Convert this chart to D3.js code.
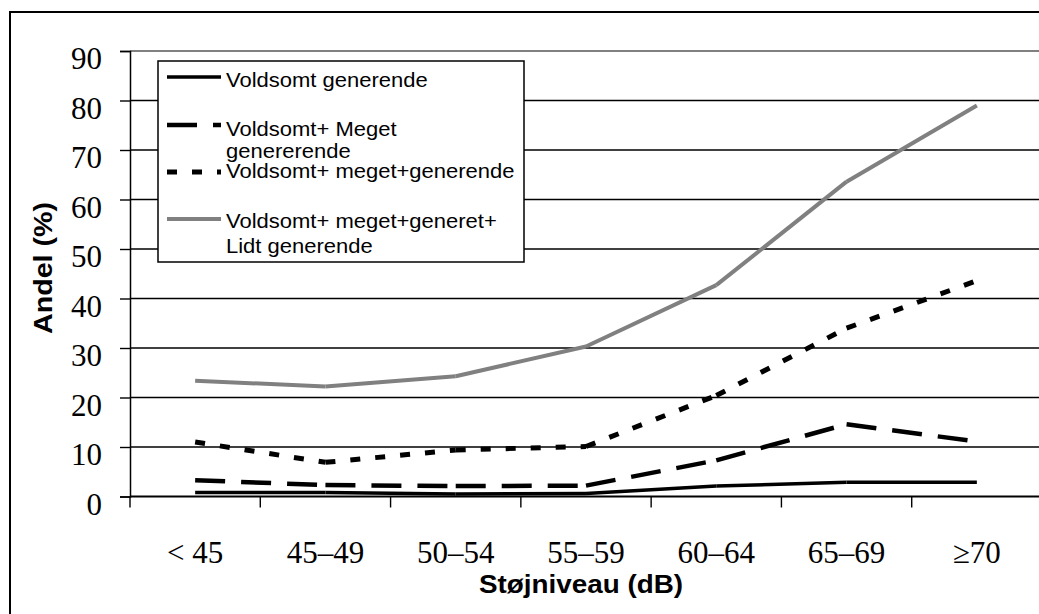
<!DOCTYPE html>
<html>
<head>
<meta charset="utf-8">
<script src="https://cdn.jsdelivr.net/npm/d3@7"></script>
<style>
    body { margin: 0; background: #fff; }
    svg { display: block; }
</style>
</head>
<body>
<div id="chart"></div>
<script>
// categories and series
const categories = ["< 45", "45\u201349", "50\u201354", "55\u201359", "60\u201364", "65\u201369", "\u226570"];
const voldsomt = [0.8, 0.8, 0.5, 0.6, 2.1, 2.9, 2.9];
const voldsomtMeget = [3.3, 2.3, 2.1, 2.2, 7.3, 14.6, 11.1];
const voldsomtMegetGenerende = [11.0, 6.9, 9.4, 10.1, 20.4, 34.0, 43.6];
const voldsomtLidt = [23.4, 22.2, 24.3, 30.3, 42.7, 63.6, 79.0];
const yTicks = [0, 10, 20, 30, 40, 50, 60, 70, 80, 90];

const series = [
    { name: ["Voldsomt generende"], values: voldsomt, color: "#000", width: 3.5, dash: null },
    { name: ["Voldsomt+ Meget", "genererende"], values: voldsomtMeget, color: "#000", width: 4.5, dash: "30 16" },
    { name: ["Voldsomt+ meget+generende"], values: voldsomtMegetGenerende, color: "#000", width: 5, dash: "10 15" },
    { name: ["Voldsomt+ meget+generet+", "Lidt generende"], values: voldsomtLidt, color: "#808080", width: 4, dash: null }
];

const width = 1039, height = 614;
const serif = "'Liberation Serif', 'Times New Roman', serif";
const sans = "'Liberation Sans', Arial, sans-serif";

const svg = d3.select("#chart")
    .append("svg")
    .attr("width", width)
    .attr("height", height);

svg.append("rect")
    .attr("width", width).attr("height", height)
    .attr("fill", "#fff");

// outer chart border (runs off the right and bottom edge)
svg.append("rect")
    .attr("x", 10).attr("y", 12)
    .attr("width", 1040).attr("height", 620)
    .attr("fill", "none")
    .attr("stroke", "#000")
    .attr("stroke-width", 2);

const x = d3.scaleBand()
    .domain(categories)
    .range([130, 1042]);

const y = d3.scaleLinear()
    .domain([0, 90])
    .range([496.5, 51]);

// gridlines
svg.selectAll("line.grid")
    .data(yTicks.filter(d => d > 0))
    .enter()
    .append("line")
    .attr("class", "grid")
    .attr("x1", 130).attr("x2", width)
    .attr("y1", d => y(d)).attr("y2", d => y(d))
    .attr("stroke", d => d === 90 ? "#808080" : "#000")
    .attr("stroke-width", d => d === 90 ? 2 : 1.4);

// y axis
const yAxis = d3.axisLeft(y)
    .tickValues(yTicks)
    .tickSize(10)
    .tickPadding(18)
    .tickFormat(d3.format("d"));

const gy = svg.append("g")
    .attr("transform", "translate(130,0)")
    .call(yAxis);
gy.select(".domain").attr("stroke", "#000").attr("stroke-width", 1.5);
gy.selectAll(".tick line").attr("stroke", "#000").attr("stroke-width", 1.4);
gy.selectAll(".tick text")
    .attr("font-family", serif)
    .attr("font-size", 31)
    .attr("fill", "#000")
    .attr("dy", "0.58em");

// x axis: ticks sit between categories
const gx = svg.append("g")
    .attr("transform", `translate(0,${y(0)})`);
gx.append("line")
    .attr("x1", 130).attr("x2", width)
    .attr("stroke", "#000").attr("stroke-width", 2);
gx.selectAll("line.xtick")
    .data(categories)
    .enter()
    .append("line")
    .attr("class", "xtick")
    .attr("x1", d => x(d)).attr("x2", d => x(d))
    .attr("y1", 0).attr("y2", 11)
    .attr("stroke", "#000").attr("stroke-width", 1.4);
gx.selectAll("text")
    .data(categories)
    .enter()
    .append("text")
    .attr("x", d => x(d) + x.bandwidth() / 2)
    .attr("y", 66)
    .attr("text-anchor", "middle")
    .attr("font-family", serif)
    .attr("font-size", 31)
    .text(d => d);

// axis titles
svg.append("text")
    .attr("transform", "translate(52,268) rotate(-90)")
    .attr("text-anchor", "middle")
    .attr("font-family", sans)
    .attr("font-weight", "bold")
    .attr("font-size", 26)
    .attr("textLength", 132)
    .attr("lengthAdjust", "spacingAndGlyphs")
    .text("Andel (%)");

svg.append("text")
    .attr("x", 581).attr("y", 593)
    .attr("text-anchor", "middle")
    .attr("font-family", sans)
    .attr("font-weight", "bold")
    .attr("font-size", 26)
    .attr("textLength", 204)
    .attr("lengthAdjust", "spacingAndGlyphs")
    .text("St\u00f8jniveau (dB)");

// series, one path per segment so the dash pattern restarts at each point
const line = d3.line()
    .x(d => x(d.c) + x.bandwidth() / 2)
    .y(d => y(d.v));

series.forEach(s => {
    const pts = s.values.map((v, i) => ({ c: categories[i], v: v }));
    const segs = d3.pairs(pts);
    svg.append("g")
        .selectAll("path")
        .data(segs)
        .enter()
        .append("path")
        .attr("d", line)
        .attr("fill", "none")
        .attr("stroke", s.color)
        .attr("stroke-width", s.width)
        .attr("stroke-dasharray", s.dash);
});

// legend
const legend = svg.append("g");
legend.append("rect")
    .attr("x", 158).attr("y", 61)
    .attr("width", 366).attr("height", 201)
    .attr("fill", "#fff")
    .attr("stroke", "#000")
    .attr("stroke-width", 1.5);

const legendY = [77, 125, 172, 219];
const legendText = [[86.5], [136, 158], [178], [228, 253]];

series.forEach((s, i) => {
    legend.append("line")
        .attr("x1", 167).attr("x2", 221)
        .attr("y1", legendY[i]).attr("y2", legendY[i])
        .attr("stroke", s.color)
        .attr("stroke-width", s.width)
        .attr("stroke-dasharray", s.dash);
    s.name.forEach((t, j) => {
        legend.append("text")
            .attr("transform", `translate(226,${legendText[i][j]}) scale(1.1,1)`)
            .attr("font-family", sans)
            .attr("font-size", 20)
            .attr("fill", "#000")
            .text(t);
    });
});
</script>
</body>
</html>
